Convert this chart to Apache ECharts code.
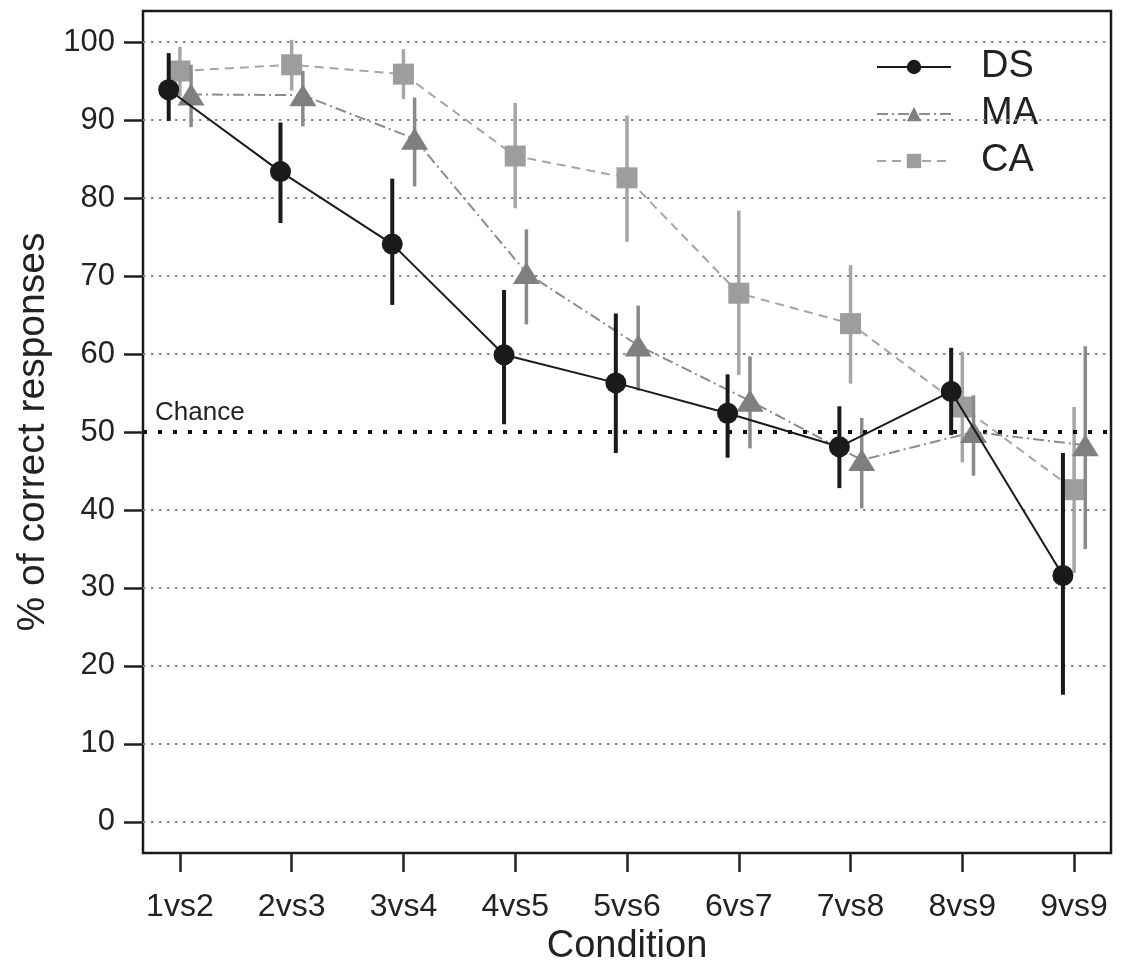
<!DOCTYPE html>
<html>
<head>
<meta charset="utf-8">
<script src="https://cdn.jsdelivr.net/npm/echarts@6/dist/echarts.min.js"></script>
<style>
  html, body { margin: 0; padding: 0; background: #fff; }
  #chart { width: 1126px; height: 972px; }
</style>
</head>
<body>
<div id="chart"></div>
<script>
// condition labels on the x axis
const conditions = ['1vs2', '2vs3', '3vs4', '4vs5', '5vs6', '6vs7', '7vs8', '8vs9', '9vs9'];
const yTicks = [0, 10, 20, 30, 40, 50, 60, 70, 80, 90, 100];
const gridValues = [0, 10, 20, 30, 40, 60, 70, 80, 90, 100];
const chanceLevel = 50;

// DS
const dsMean = [93.9, 83.4, 74.1, 59.9, 56.3, 52.4, 48.1, 55.2, 31.6];
const dsLow  = [89.9, 76.8, 66.3, 51.0, 47.3, 46.7, 42.8, 49.6, 16.3];
const dsHigh = [98.6, 89.7, 82.5, 68.2, 65.2, 57.4, 53.3, 60.8, 47.3];

// MA
const maMean = [93.3, 93.2, 87.6, 70.4, 61.1, 54.0, 46.4, 50.0, 48.3];
const maLow  = [89.1, 89.2, 81.5, 63.8, 55.3, 47.9, 40.2, 44.4, 35.0];
const maHigh = [97.1, 96.3, 92.9, 76.0, 66.2, 59.7, 51.8, 54.7, 61.0];

// CA
const caMean = [96.3, 97.1, 95.9, 85.4, 82.6, 67.8, 63.9, 53.2, 42.6];
const caLow  = [93.0, 93.8, 92.7, 78.7, 74.4, 57.3, 56.2, 46.1, 31.9];
const caHigh = [99.4, 100.3, 99.1, 92.2, 90.6, 78.4, 71.4, 60.3, 53.2];

const FONT = "'Liberation Sans', Arial, Helvetica, sans-serif";
const TXT = '#222';

// little horizontal shift so the three groups don't sit on top of each other
const shift = { DS: -0.1, MA: 0.1, CA: 0 };

const points = (vals, dx) => vals.map((v, i) => [i + 1 + dx, v]);
const bars = (lo, hi, dx) => lo.map((v, i) => [i + 1 + dx, v, hi[i]]);

const errorBars = (name, lo, hi, dx, color, width, z) => ({
  type: 'custom',
  name: name + ' err',
  z: z,
  silent: true,
  data: bars(lo, hi, dx),
  encode: { x: 0, y: [1, 2] },
  renderItem: function (params, api) {
    const x = api.value(0);
    const p1 = api.coord([x, api.value(1)]);
    const p2 = api.coord([x, api.value(2)]);
    return {
      type: 'line',
      shape: { x1: p1[0], y1: p1[1], x2: p2[0], y2: p2[1] },
      style: { stroke: color, lineWidth: width }
    };
  }
});

const chart = echarts.init(document.getElementById('chart'), null, { renderer: 'canvas' });

const option = {
  animation: false,
  backgroundColor: '#fff',
  grid: {
    left: 143, right: 15, top: 11, bottom: 119,
    show: true, borderColor: '#1a1a1a', borderWidth: 2.5, backgroundColor: 'transparent'
  },
  legend: {
    data: ['DS', 'MA', 'CA'],
    orient: 'vertical',
    left: 871,
    top: 42,
    itemWidth: 74,
    itemHeight: 18,
    itemGap: 7,
    selectedMode: false,
    textStyle: { fontFamily: FONT, fontSize: 38, lineHeight: 40, color: TXT, padding: [0, 0, 0, 25] }
  },
  xAxis: {
    type: 'value',
    min: 0.67,
    max: 9.33,
    name: 'Condition',
    nameLocation: 'middle',
    nameGap: 74,
    nameTextStyle: { fontFamily: FONT, fontSize: 38, color: TXT },
    axisLine: { show: false, onZero: false },
    axisTick: { show: true, inside: false, length: 19, customValues: [1, 2, 3, 4, 5, 6, 7, 8, 9], lineStyle: { color: '#222', width: 2.5 } },
    axisLabel: {
      customValues: [1, 2, 3, 4, 5, 6, 7, 8, 9],
      formatter: v => conditions[Math.round(v) - 1] || '',
      margin: 38,
      fontFamily: FONT, fontSize: 32, color: TXT
    },
    splitLine: { show: false }
  },
  yAxis: {
    type: 'value',
    min: -4,
    max: 104,
    name: '% of correct responses',
    nameLocation: 'middle',
    nameRotate: 90,
    nameGap: 86,
    nameTextStyle: { fontFamily: FONT, fontSize: 39, color: TXT },
    axisLine: { show: false, onZero: false },
    axisTick: { show: true, inside: false, length: 19, customValues: yTicks, lineStyle: { color: '#222', width: 2.5 } },
    axisLabel: { customValues: yTicks, margin: 28, fontFamily: FONT, fontSize: 31, color: TXT },
    splitLine: { show: false }
  },
  series: [
    {
      // background dotted grid + chance line
      type: 'line',
      name: 'grid',
      data: [],
      z: 1,
      silent: true,
      markLine: {
        silent: true,
        symbol: ['none', 'none'],
        animation: false,
        data: gridValues.map(v => ({
          yAxis: v,
          lineStyle: { color: '#8a8a8a', width: 1.8, type: [2.5, 5.5] },
          label: { show: false }
        })).concat([{
          yAxis: chanceLevel,
          lineStyle: { color: '#111', width: 4, type: [4, 11] },
          label: {
            show: true,
            formatter: 'Chance',
            position: 'insideStartTop',
            distance: [12, 6],
            fontFamily: FONT, fontSize: 26, color: TXT
          }
        }])
      }
    },
    errorBars('CA', caLow, caHigh, shift.CA, '#a6a6a8', 3.5, 2),
    {
      type: 'line',
      name: 'CA',
      z: 3,
      data: points(caMean, shift.CA),
      symbol: 'rect',
      symbolSize: 21,
      itemStyle: { color: '#9d9d9f' },
      lineStyle: { color: '#a5a5a5', width: 2, type: [9, 6] }
    },
    errorBars('MA', maLow, maHigh, shift.MA, '#8a8a8a', 3.5, 4),
    {
      type: 'line',
      name: 'MA',
      z: 5,
      data: points(maMean, shift.MA),
      symbol: 'triangle',
      symbolSize: [27, 22],
      itemStyle: { color: '#7f7f7f' },
      lineStyle: { color: '#8c8c8c', width: 2, type: [11, 4, 2, 4] }
    },
    errorBars('DS', dsLow, dsHigh, shift.DS, '#1a1a1a', 4, 6),
    {
      type: 'line',
      name: 'DS',
      z: 7,
      data: points(dsMean, shift.DS),
      symbol: 'circle',
      symbolSize: 21,
      itemStyle: { color: '#1a1a1a' },
      lineStyle: { color: '#1a1a1a', width: 2 }
    }
  ]
};

chart.setOption(option);
</script>
</body>
</html>
